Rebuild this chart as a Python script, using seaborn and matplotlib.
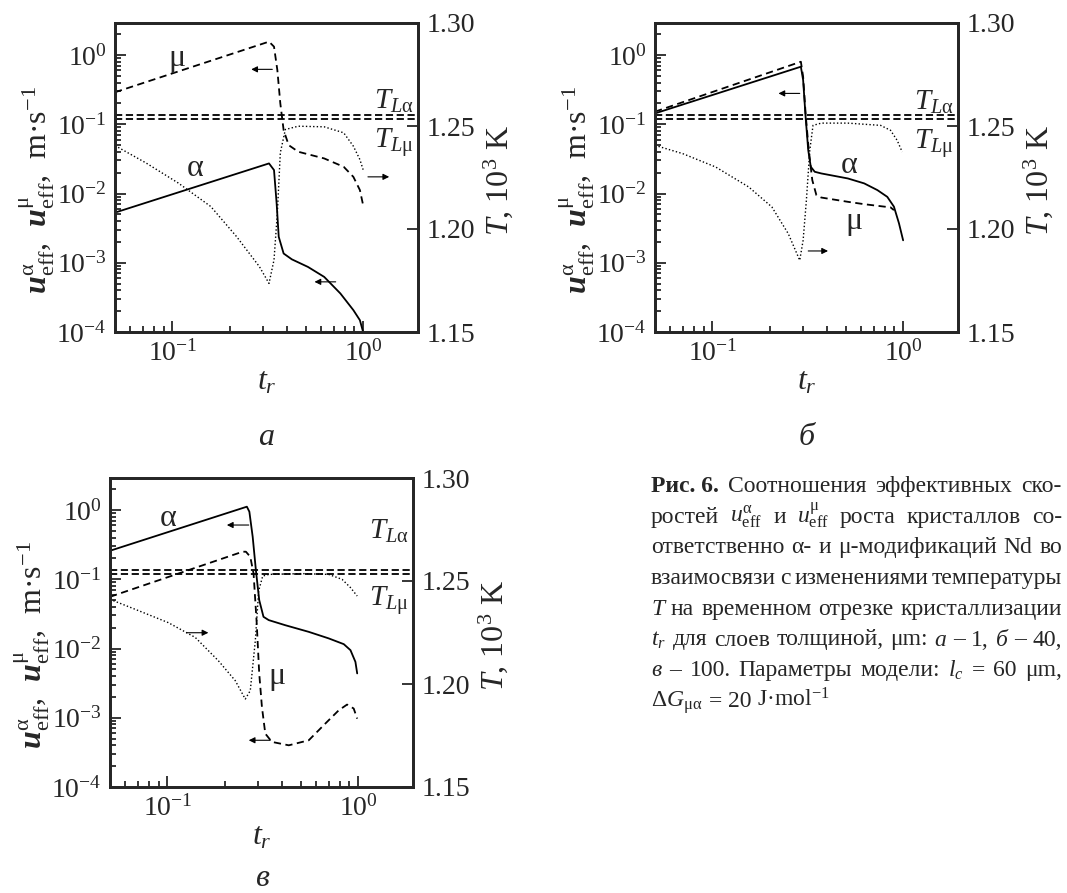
import matplotlib
matplotlib.use("Agg")
import matplotlib.pyplot as plt
import numpy as np
import seaborn as sns
from matplotlib.ticker import LogLocator, NullFormatter, FormatStrFormatter

# ---- panel a (layer 1 um) ----
a_alpha_t = [0.050, 0.321, 0.341, 0.352, 0.361, 0.383, 0.423, 0.514, 0.625, 0.760, 0.889, 0.962, 1.000]
a_alpha_u = [5.3e-3, 2.72e-2, 2.18e-2, 7.2e-3, 2.37e-3, 1.36e-3, 1.12e-3, 8.7e-4, 6.25e-4, 3.6e-4, 2.07e-4, 1.48e-4, 1.0e-4]
a_mu_t = [0.050, 0.321, 0.341, 0.355, 0.368, 0.383, 0.407, 0.457, 0.625, 0.791, 0.889, 0.962, 1.000]
a_mu_u = [0.29, 1.56, 1.32, 0.607, 0.20, 0.0824, 0.050, 0.0401, 0.0321, 0.0243, 0.0174, 0.0112, 0.0068]
a_temp_t = [0.050, 0.0726, 0.1074, 0.159, 0.217, 0.286, 0.321, 0.341, 0.355, 0.368, 0.391, 0.457, 0.625, 0.791, 0.889, 0.962, 1.000]
a_temp_T = [1.2405, 1.2321, 1.2223, 1.2109, 1.1963, 1.1817, 1.1736, 1.1850, 1.2077, 1.2370, 1.2483, 1.2499, 1.2496, 1.2467, 1.2402, 1.2337, 1.2288]

# ---- panel b (layer 40 um) ----
b_alpha_t = [0.050, 0.291, 0.299, 0.308, 0.318, 0.328, 0.344, 0.372, 0.513, 0.625, 0.733, 0.826, 0.895, 0.951, 1.000]
b_alpha_u = [0.1435, 0.678, 0.436, 0.129, 0.0424, 0.0243, 0.0206, 0.0195, 0.0165, 0.0140, 0.0112, 0.00895, 0.00646, 0.00372, 0.00211]
b_mu_t = [0.050, 0.291, 0.299, 0.308, 0.320, 0.334, 0.351, 0.372, 0.513, 0.625, 0.762, 0.859, 0.895]
b_mu_u = [0.152, 0.80, 0.486, 0.1435, 0.0424, 0.0156, 0.00946, 0.00875, 0.00759, 0.00701, 0.00656, 0.00631, 0.00575]
b_temp_t = [0.050, 0.0698, 0.104, 0.155, 0.205, 0.250, 0.287, 0.299, 0.311, 0.324, 0.337, 0.372, 0.513, 0.762, 0.859, 0.931, 0.989]
b_temp_T = [1.2406, 1.2366, 1.2301, 1.2204, 1.2107, 1.1977, 1.1848, 1.1945, 1.2139, 1.2382, 1.2503, 1.2514, 1.2514, 1.2503, 1.2479, 1.2430, 1.2374]

# ---- panel c (layer 100 um) ----
c_alpha_t = [0.050, 0.261, 0.269, 0.280, 0.291, 0.303, 0.319, 0.340, 0.415, 0.551, 0.701, 0.841, 0.912, 0.968, 0.989]
c_alpha_u = [0.258, 1.117, 0.946, 0.411, 0.136, 0.050, 0.0287, 0.0257, 0.0217, 0.0174, 0.0140, 0.01156, 0.00946, 0.00641, 0.00437]
c_mu_t = [0.050, 0.248, 0.258, 0.272, 0.283, 0.294, 0.303, 0.313, 0.326, 0.353, 0.433, 0.551, 0.673, 0.791, 0.875, 0.948, 0.989]
c_mu_u = [0.0558, 0.250, 0.250, 0.211, 0.121, 0.0230, 0.00436, 0.00144, 5.9e-4, 4.48e-4, 4.0e-4, 4.73e-4, 8.24e-4, 1.28e-3, 1.55e-3, 1.36e-3, 9.7e-4]
c_temp_t = [0.050, 0.0676, 0.101, 0.140, 0.185, 0.227, 0.256, 0.272, 0.289, 0.301, 0.316, 0.340, 0.508, 0.701, 0.824, 0.912, 0.989]
c_temp_T = [1.2411, 1.2363, 1.2298, 1.2226, 1.2113, 1.2016, 1.1927, 1.1968, 1.2210, 1.2452, 1.2524, 1.2532, 1.2536, 1.2532, 1.2508, 1.2468, 1.2427]

# liquidus temperatures, 10^3 K
T_LIQ_ALPHA = 1.2552
T_LIQ_MU = 1.2535

# annotations: arrows (t_from, u_from, t_to, u_to) and curve names (t, u, text)
a_arrows = [(0.334, 0.621, 0.259, 0.621), (0.718, 5.3e-4, 0.556, 5.3e-4), (1.06, 0.0174, 1.37, 0.0174)]
a_names = [(0.105, 0.895, "μ"), (0.131, 0.023, "α")]
a_tl = (1.262, 1.2418)
b_arrows = [(0.287, 0.279, 0.222, 0.279), (0.318, 1.48e-3, 0.404, 1.48e-3)]
b_names = [(0.522, 0.0257, "α"), (0.555, 0.0039, "μ")]
b_tl = (1.2615, 1.2414)
c_arrows = [(0.267, 0.607, 0.205, 0.607), (0.126, 0.0169, 0.164, 0.0169), (0.346, 4.73e-4, 0.267, 4.73e-4)]
c_names = [(0.101, 0.758, "α"), (0.375, 0.0039, "μ")]
c_tl = (1.2742, 1.2403)

caption_lines = [
    [("Рис. 6.", "bold"), "Соотношения", "эффективных", "ско-"],
    ["ростей", r"$u^{\mathrm{α}}_{\mathrm{eff}}$", "и", r"$u^{\mathrm{μ}}_{\mathrm{eff}}$", "роста", "кристаллов", "со-"],
    ["ответственно", "α-", "и", "μ-модификаций", "Nd", "во"],
    ["взаимосвязи", "с", "изменениями", "температуры"],
    [("T", "italic"), "на", "временном", "отрезке", "кристаллизации"],
    ["$t_r$", "для", "слоев", "толщиной,", "μm:", ("а", "italic"), "–", "1,", ("б", "italic"), "–", "40,"],
    [("в", "italic"), "–", "100.", "Параметры", "модели:", "$l_c$", "=", "60", "μm,"],
    [r"$\Delta G_{\mathrm{μα}}$", "=", "20", "J·mol$^{-1}$"],
]

sns.set_style("ticks")
plt.rcParams["font.family"] = ["Liberation Serif", "DejaVu Serif"]
plt.rcParams["mathtext.fontset"] = "custom"
plt.rcParams["mathtext.rm"] = "Liberation Serif"
plt.rcParams["mathtext.it"] = "Liberation Serif:italic"
plt.rcParams["mathtext.bf"] = "Liberation Serif:bold"
plt.rcParams["mathtext.bfit"] = "Liberation Serif:italic:bold"

FS = 20
W, H = 1067, 893
fig = plt.figure(figsize=(W / 100, H / 100), dpi=100)

dash = (0, (4, 2.5))
dots = (0, (1, 1.6))
ULABEL = (r"$\mathbfit{u}^{\mathrm{α}}_{\mathrm{eff}}$,  "
          r"$\mathbfit{u}^{\mathrm{μ}}_{\mathrm{eff}}$,  m·s$^{-1}$")


def draw_panel(rect, alpha, mu, temp, arrows, names, tl, letter, letter_y):
    ax = fig.add_axes(rect)
    ax.set_xscale("log")
    ax.set_yscale("log")
    ax2 = ax.twinx()

    sns.lineplot(x=alpha[0], y=alpha[1], ax=ax, color="k", lw=1.3,
                 sort=False, estimator=None)
    sns.lineplot(x=mu[0], y=mu[1], ax=ax, color="k", lw=1.3, linestyle=dash,
                 sort=False, estimator=None)
    sns.lineplot(x=temp[0], y=temp[1], ax=ax2, color="k", lw=1.0, linestyle=dots,
                 sort=False, estimator=None)
    ax2.axhline(T_LIQ_ALPHA, color="k", lw=1.3, linestyle=(0, (4, 2)))
    ax2.axhline(T_LIQ_MU, color="k", lw=1.3, linestyle=(0, (4, 2)))

    ax.set_xlim(0.05, 1.94)
    ax.set_ylim(1e-4, 2.9)
    ax2.set_ylim(1.15, 1.30)

    ax.xaxis.set_minor_locator(LogLocator(base=10, subs=np.arange(2, 10) * 1.0, numticks=50))
    ax.yaxis.set_minor_locator(LogLocator(base=10, subs=np.arange(2, 10) * 1.0, numticks=50))
    ax.xaxis.set_minor_formatter(NullFormatter())
    ax.yaxis.set_minor_formatter(NullFormatter())
    ax.yaxis.set_major_locator(LogLocator(base=10, numticks=20))
    ax.tick_params(which="both", direction="in", top=False, right=False,
                   labelsize=FS, width=1.3, pad=6)
    ax.tick_params(which="major", length=8)
    ax.tick_params(which="minor", length=4.5)

    ax2.set_yticks([1.15, 1.20, 1.25, 1.30])
    ax2.yaxis.set_major_formatter(FormatStrFormatter("%.2f"))
    ax2.tick_params(direction="in", length=8, width=1.3, labelsize=FS, pad=6)
    for sp in list(ax.spines.values()) + list(ax2.spines.values()):
        sp.set_linewidth(2.0)

    ax.set_xlabel("$t_r$", fontsize=FS + 3)
    ax.xaxis.set_label_coords(0.5, -0.115)
    ax.set_ylabel(ULABEL, fontsize=FS + 3)
    ax.yaxis.set_label_coords(-0.19, 0.46)
    ax2.set_ylabel("$T$, 10$^3$ K", fontsize=FS + 3, rotation=90)
    ax2.yaxis.set_label_coords(1.21, 0.49)

    for t0, u0, t1, u1 in arrows:
        ax.annotate("", xy=(t1, u1), xytext=(t0, u0),
                    arrowprops=dict(arrowstyle="-|>", color="k", lw=0.8,
                                    mutation_scale=9, shrinkA=0, shrinkB=0))
    for t, u, s in names:
        ax.text(t, u, s, fontsize=FS + 3, ha="center", va="center")
    ax2.text(1.85, tl[0], r"$T_{L\mathrm{α}}$", fontsize=FS + 1, ha="right", va="center")
    ax2.text(1.85, tl[1], r"$T_{L\mathrm{μ}}$", fontsize=FS + 1, ha="right", va="center")
    ax.text(0.5, letter_y, letter, transform=ax.transAxes, fontsize=FS + 3,
            style="italic", ha="center", va="center")
    return ax


pw, ph = 303 / W, 309 / H
draw_panel([115 / W, 1 - 332 / H, pw, ph], (a_alpha_t, a_alpha_u), (a_mu_t, a_mu_u),
           (a_temp_t, a_temp_T), a_arrows, a_names, a_tl, "а", -0.34)
draw_panel([655 / W, 1 - 332 / H, pw, ph], (b_alpha_t, b_alpha_u), (b_mu_t, b_mu_u),
           (b_temp_t, b_temp_T), b_arrows, b_names, b_tl, "б", -0.34)
draw_panel([110 / W, 1 - 787 / H, pw, ph], (c_alpha_t, c_alpha_u), (c_mu_t, c_mu_u),
           (c_temp_t, c_temp_T), c_arrows, c_names, c_tl, "в", -0.295)

# caption, justified line by line
CFS = 17
cap_x0, cap_x1 = 651, 1062
cap_base, cap_step = 492, 30.7
renderer = fig.canvas.get_renderer()
for i, words in enumerate(caption_lines):
    y = 1 - (cap_base + i * cap_step) / H
    objs = []
    for w in words:
        kw = {}
        if isinstance(w, tuple):
            w, st = w
            kw = {"fontweight": "bold"} if st == "bold" else {"style": "italic"}
        objs.append(fig.text(0, y, w, fontsize=CFS, va="baseline", **kw))
    widths = [o.get_window_extent(renderer).width for o in objs]
    if i < len(caption_lines) - 1:
        gap = max((cap_x1 - cap_x0 - sum(widths)) / (len(objs) - 1), 3)
    else:
        gap = 6
    x = cap_x0
    for o, wd in zip(objs, widths):
        o.set_x(x / W)
        x += wd + gap

fig.savefig("out.png", dpi=100)
